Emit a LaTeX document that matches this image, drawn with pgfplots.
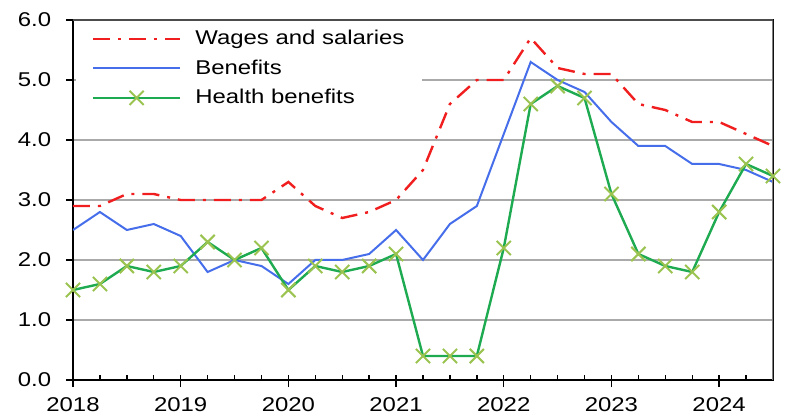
\documentclass[border=0pt]{standalone}
\usepackage{pgfplots}
\pgfplotsset{compat=1.18}
\usepackage{pgfplotstable}
\usepackage{fontspec}
\setmainfont{Liberation Sans}[FakeStretch=1.2]

\definecolor{wagered}{RGB}{240,30,30}
\definecolor{benblue}{RGB}{70,110,235}
\definecolor{hlthgreen}{RGB}{30,170,80}
\definecolor{hlthmark}{RGB}{155,195,80}
\definecolor{gridgray}{RGB}{170,170,170}

% 12-month percent change, quarterly
\pgfplotstableread{
t       wages benefits health
2018.00 2.9   2.5      1.5
2018.25 2.9   2.8      1.6
2018.50 3.1   2.5      1.9
2018.75 3.1   2.6      1.8
2019.00 3.0   2.4      1.9
2019.25 3.0   1.8      2.3
2019.50 3.0   2.0      2.0
2019.75 3.0   1.9      2.2
2020.00 3.3   1.6      1.5
2020.25 2.9   2.0      1.9
2020.50 2.7   2.0      1.8
2020.75 2.8   2.1      1.9
2021.00 3.0   2.5      2.1
2021.25 3.5   2.0      0.4
2021.50 4.6   2.6      0.4
2021.75 5.0   2.9      0.4
2022.00 5.0   4.1      2.2
2022.25 5.7   5.3      4.6
2022.50 5.2   5.0      4.9
2022.75 5.1   4.8      4.7
2023.00 5.1   4.3      3.1
2023.25 4.6   3.9      2.1
2023.50 4.5   3.9      1.9
2023.75 4.3   3.6      1.8
2024.00 4.3   3.6      2.8
2024.25 4.1   3.5      3.6
2024.50 3.9   3.3      3.4
}\eci

\begin{document}
\fontsize{20}{24}\selectfont
\begin{tikzpicture}[font=\fontsize{20}{24}\selectfont]
\useasboundingbox (-73bp,-36bp) rectangle (714bp,380bp);
\begin{axis}[
    scale only axis,
    width=700bp, height=360bp,
    xmin=2018, xmax=2024.5,
    ymin=0, ymax=6,
    xtick={2018,2019,...,2024},
    minor xtick={2018,2018.25,...,2024.5},
    ytick={0,1,...,6},
    tick pos=left,
    tick align=inside,
    major tick length=7bp,
    minor tick length=5bp,
    major x tick style={yshift=-7bp},
    major y tick style={xshift=-7bp},
    every tick/.style={black, line width=1.4bp},
    axis line style={black, line width=1.4bp},
    ymajorgrids,
    grid style={gridgray, line width=1.2bp},
    /pgf/number format/assume math mode=true,
    xticklabel style={/pgf/number format/1000 sep={}, yshift=-11bp},
    yticklabel style={/pgf/number format/.cd, fixed, fixed zerofill, precision=1, /tikz/.cd, xshift=-15bp},
    legend style={at={(0.004,0.994)}, anchor=north west, draw=none, fill=white,
        inner xsep=16bp, inner ysep=6bp, cells={anchor=west}, row sep=8bp,
        /tikz/every odd column/.append style={column sep=12bp}},
    legend image code/.code={\draw[mark repeat=2,mark phase=2] plot coordinates {(0bp,0bp) (43.5bp,0bp) (87bp,0bp)};},
]
\addplot[wagered, line width=2.4bp, dash pattern=on 17bp off 8bp on 3bp off 8bp] table[x=t, y=wages] {\eci};
\addlegendentry{Wages and salaries}
\addplot[benblue, line width=2bp] table[x=t, y=benefits] {\eci};
\addlegendentry{Benefits}
\addplot[hlthgreen, line width=2.4bp, mark=x, mark size=10bp,
    mark options={hlthmark, line width=2bp}] table[x=t, y=health] {\eci};
\addlegendentry{Health benefits}
\draw[gray, line width=1.4bp] (rel axis cs:1,0) -- (rel axis cs:1,1);
\draw[black!70, line width=1.4bp] (rel axis cs:0,1) -- (rel axis cs:1,1);
\end{axis}
\end{tikzpicture}
\end{document}
